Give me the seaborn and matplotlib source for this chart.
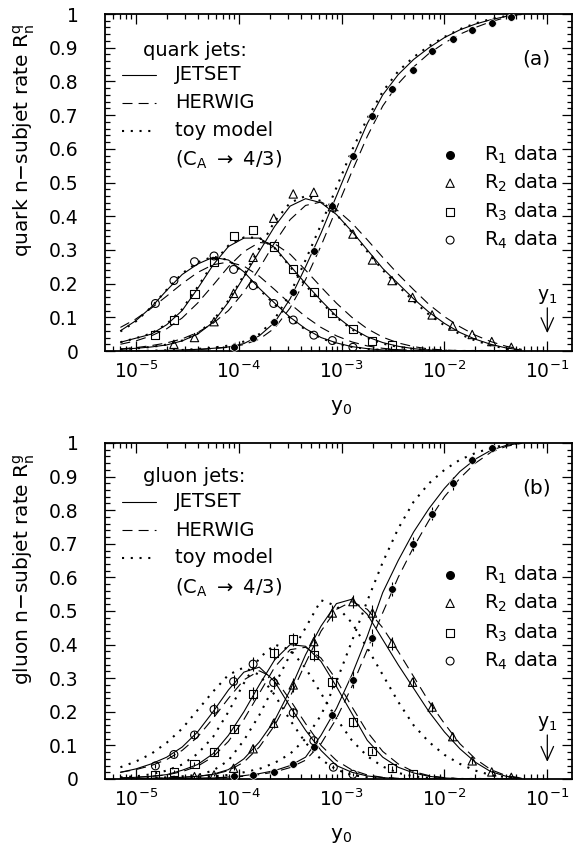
import numpy as np
import matplotlib
matplotlib.use("Agg")
import matplotlib.pyplot as plt
from matplotlib.lines import Line2D
from matplotlib.ticker import LogLocator, MultipleLocator, FixedLocator, FuncFormatter, NullFormatter
import seaborn as sns

# ---------------------------------------------------------------------------
# model curves: log10(y0) grid and n-subjet rates
# ---------------------------------------------------------------------------
log_y0 = [-5.15, -5.00, -4.85, -4.70, -4.55, -4.40, -4.25, -4.10, -3.95, -3.80,
          -3.65, -3.50, -3.35, -3.20, -3.05, -2.90, -2.75, -2.60, -2.45, -2.30,
          -2.15, -2.00, -1.85, -1.70, -1.55, -1.40, -1.25]

# quark jets
q1_jetset = [0.000, 0.000, 0.001, 0.002, 0.003, 0.005, 0.008, 0.012, 0.022, 0.045, 0.085, 0.155, 0.250, 0.350, 0.460, 0.570, 0.675, 0.760, 0.820, 0.865, 0.900, 0.930, 0.953, 0.970, 0.983, 0.993, 0.999]
q1_herwig = [0.000, 0.000, 0.001, 0.001, 0.002, 0.004, 0.007, 0.011, 0.019, 0.035, 0.068, 0.128, 0.212, 0.312, 0.422, 0.532, 0.637, 0.727, 0.793, 0.843, 0.883, 0.914, 0.940, 0.960, 0.977, 0.990, 0.998]
q1_toy    = [0.000, 0.000, 0.001, 0.002, 0.003, 0.006, 0.010, 0.016, 0.028, 0.050, 0.095, 0.170, 0.270, 0.375, 0.485, 0.595, 0.690, 0.770, 0.830, 0.872, 0.905, 0.932, 0.955, 0.972, 0.985, 0.994, 1.000]

q2_jetset = [0.005, 0.008, 0.012, 0.018, 0.030, 0.050, 0.085, 0.145, 0.220, 0.295, 0.370, 0.430, 0.452, 0.440, 0.405, 0.355, 0.300, 0.245, 0.200, 0.155, 0.115, 0.082, 0.055, 0.035, 0.020, 0.009, 0.003]
q2_herwig = [0.006, 0.010, 0.016, 0.024, 0.036, 0.055, 0.082, 0.120, 0.175, 0.245, 0.322, 0.390, 0.432, 0.442, 0.420, 0.380, 0.330, 0.278, 0.228, 0.182, 0.138, 0.102, 0.072, 0.047, 0.028, 0.014, 0.005]
q2_toy    = [0.005, 0.008, 0.012, 0.019, 0.031, 0.052, 0.090, 0.150, 0.225, 0.305, 0.385, 0.440, 0.460, 0.445, 0.405, 0.352, 0.295, 0.240, 0.193, 0.148, 0.108, 0.076, 0.050, 0.031, 0.017, 0.007, 0.002]

q3_jetset = [0.026, 0.038, 0.050, 0.078, 0.120, 0.185, 0.255, 0.310, 0.335, 0.335, 0.307, 0.253, 0.200, 0.150, 0.103, 0.067, 0.042, 0.025, 0.014, 0.007, 0.003, 0.001, 0.000, 0.000, 0.000, 0.000, 0.000]
q3_herwig = [0.020, 0.030, 0.045, 0.066, 0.098, 0.142, 0.195, 0.250, 0.295, 0.322, 0.318, 0.287, 0.240, 0.190, 0.142, 0.100, 0.066, 0.041, 0.024, 0.013, 0.006, 0.003, 0.001, 0.000, 0.000, 0.000, 0.000]
q3_toy    = [0.026, 0.038, 0.052, 0.080, 0.124, 0.190, 0.260, 0.313, 0.337, 0.336, 0.305, 0.250, 0.195, 0.145, 0.100, 0.064, 0.039, 0.022, 0.012, 0.006, 0.002, 0.001, 0.000, 0.000, 0.000, 0.000, 0.000]

q4_jetset = [0.060, 0.090, 0.130, 0.180, 0.227, 0.258, 0.278, 0.270, 0.235, 0.186, 0.142, 0.100, 0.066, 0.040, 0.024, 0.013, 0.007, 0.003, 0.001, 0.000, 0.000, 0.000, 0.000, 0.000, 0.000, 0.000, 0.000]
q4_herwig = [0.070, 0.095, 0.127, 0.163, 0.200, 0.233, 0.256, 0.264, 0.252, 0.222, 0.182, 0.140, 0.102, 0.070, 0.045, 0.027, 0.015, 0.008, 0.004, 0.002, 0.001, 0.000, 0.000, 0.000, 0.000, 0.000, 0.000]
q4_toy    = [0.058, 0.088, 0.130, 0.182, 0.230, 0.263, 0.280, 0.270, 0.232, 0.183, 0.138, 0.097, 0.063, 0.038, 0.022, 0.012, 0.006, 0.003, 0.001, 0.000, 0.000, 0.000, 0.000, 0.000, 0.000, 0.000, 0.000]

# gluon jets
g1_jetset = [0.000, 0.000, 0.000, 0.000, 0.001, 0.002, 0.003, 0.006, 0.010, 0.016, 0.025, 0.040, 0.065, 0.130, 0.210, 0.310, 0.425, 0.555, 0.650, 0.735, 0.805, 0.865, 0.915, 0.952, 0.978, 0.993, 1.000]
g1_herwig = [0.000, 0.000, 0.000, 0.000, 0.001, 0.002, 0.003, 0.005, 0.008, 0.013, 0.021, 0.034, 0.056, 0.105, 0.180, 0.275, 0.385, 0.495, 0.600, 0.690, 0.770, 0.840, 0.895, 0.940, 0.972, 0.990, 0.999]
g1_toy    = [0.000, 0.001, 0.001, 0.002, 0.003, 0.005, 0.008, 0.012, 0.020, 0.030, 0.048, 0.075, 0.120, 0.190, 0.290, 0.410, 0.530, 0.645, 0.745, 0.825, 0.880, 0.920, 0.950, 0.970, 0.985, 0.995, 1.000]

g2_jetset = [0.000, 0.001, 0.002, 0.003, 0.005, 0.008, 0.014, 0.028, 0.060, 0.110, 0.175, 0.265, 0.370, 0.455, 0.522, 0.535, 0.490, 0.415, 0.340, 0.270, 0.200, 0.140, 0.090, 0.050, 0.022, 0.008, 0.002]
g2_herwig = [0.000, 0.001, 0.002, 0.003, 0.005, 0.008, 0.013, 0.025, 0.050, 0.095, 0.160, 0.245, 0.345, 0.440, 0.505, 0.528, 0.505, 0.450, 0.380, 0.305, 0.230, 0.165, 0.105, 0.060, 0.028, 0.010, 0.003]
g2_toy    = [0.001, 0.002, 0.003, 0.005, 0.008, 0.012, 0.025, 0.055, 0.115, 0.190, 0.280, 0.370, 0.450, 0.532, 0.515, 0.465, 0.390, 0.310, 0.230, 0.160, 0.110, 0.072, 0.045, 0.025, 0.012, 0.005, 0.001]

g3_jetset = [0.003, 0.005, 0.008, 0.013, 0.026, 0.043, 0.075, 0.130, 0.200, 0.280, 0.355, 0.400, 0.395, 0.350, 0.275, 0.195, 0.115, 0.065, 0.035, 0.018, 0.008, 0.003, 0.001, 0.000, 0.000, 0.000, 0.000]
g3_herwig = [0.003, 0.005, 0.008, 0.012, 0.022, 0.038, 0.066, 0.112, 0.177, 0.255, 0.333, 0.385, 0.392, 0.360, 0.295, 0.215, 0.140, 0.082, 0.045, 0.022, 0.010, 0.004, 0.001, 0.000, 0.000, 0.000, 0.000]
g3_toy    = [0.005, 0.008, 0.014, 0.025, 0.043, 0.075, 0.125, 0.200, 0.285, 0.360, 0.400, 0.385, 0.330, 0.255, 0.180, 0.115, 0.068, 0.037, 0.018, 0.008, 0.003, 0.001, 0.000, 0.000, 0.000, 0.000, 0.000]

g4_jetset = [0.020, 0.030, 0.045, 0.065, 0.095, 0.140, 0.200, 0.265, 0.318, 0.333, 0.290, 0.215, 0.145, 0.085, 0.040, 0.020, 0.009, 0.004, 0.001, 0.000, 0.000, 0.000, 0.000, 0.000, 0.000, 0.000, 0.000]
g4_herwig = [0.020, 0.028, 0.040, 0.058, 0.085, 0.125, 0.180, 0.240, 0.295, 0.322, 0.300, 0.235, 0.165, 0.100, 0.055, 0.027, 0.012, 0.005, 0.002, 0.000, 0.000, 0.000, 0.000, 0.000, 0.000, 0.000, 0.000]
g4_toy    = [0.035, 0.052, 0.075, 0.108, 0.150, 0.205, 0.260, 0.310, 0.332, 0.310, 0.250, 0.175, 0.108, 0.058, 0.028, 0.012, 0.005, 0.002, 0.000, 0.000, 0.000, 0.000, 0.000, 0.000, 0.000, 0.000, 0.000]

# ---------------------------------------------------------------------------
# measured rates (log10 y0, R_n, error)
# ---------------------------------------------------------------------------
qd1_x = [-4.05, -3.86, -3.66, -3.47, -3.27, -3.09, -2.89, -2.70, -2.51, -2.31, -2.12, -1.92, -1.73, -1.54, -1.35]
qd1_y = [0.013, 0.038, 0.087, 0.174, 0.297, 0.430, 0.579, 0.697, 0.776, 0.834, 0.890, 0.925, 0.953, 0.974, 0.992]
qd2_x = [-4.63, -4.43, -4.24, -4.05, -3.86, -3.66, -3.47, -3.27, -3.09, -2.89, -2.70, -2.51, -2.31, -2.12, -1.92, -1.73, -1.54, -1.35]
qd2_y = [0.020, 0.040, 0.087, 0.171, 0.278, 0.394, 0.466, 0.471, 0.428, 0.347, 0.270, 0.209, 0.159, 0.107, 0.074, 0.049, 0.028, 0.011]
qd3_x = [-4.81, -4.63, -4.43, -4.24, -4.05, -3.86, -3.66, -3.47, -3.27, -3.09, -2.89, -2.70, -2.51]
qd3_y = [0.047, 0.092, 0.169, 0.265, 0.342, 0.359, 0.310, 0.243, 0.176, 0.112, 0.064, 0.031, 0.018]
qd4_x = [-4.81, -4.63, -4.43, -4.24, -4.05, -3.86, -3.66, -3.47, -3.27, -3.09, -2.89]
qd4_y = [0.141, 0.209, 0.265, 0.282, 0.242, 0.194, 0.141, 0.092, 0.047, 0.031, 0.011]

gd1_x = [-4.05, -3.86, -3.66, -3.47, -3.27, -3.09, -2.89, -2.70, -2.51, -2.31, -2.12, -1.92, -1.73, -1.54]
gd1_y = [0.008, 0.013, 0.022, 0.045, 0.095, 0.190, 0.295, 0.420, 0.565, 0.700, 0.790, 0.880, 0.950, 0.984]
gd1_e = [0.003, 0.004, 0.005, 0.007, 0.010, 0.015, 0.025, 0.025, 0.020, 0.020, 0.020, 0.020, 0.012, 0.008]
gd2_x = [-4.43, -4.24, -4.05, -3.86, -3.66, -3.47, -3.27, -3.09, -2.89, -2.70, -2.51, -2.31, -2.12, -1.92, -1.73, -1.54, -1.35]
gd2_y = [0.007, 0.012, 0.032, 0.090, 0.166, 0.280, 0.409, 0.494, 0.528, 0.494, 0.404, 0.288, 0.214, 0.126, 0.054, 0.021, 0.005]
gd2_e = [0.003, 0.004, 0.006, 0.010, 0.015, 0.020, 0.025, 0.025, 0.020, 0.025, 0.020, 0.015, 0.015, 0.012, 0.008, 0.005, 0.003]
gd3_x = [-4.81, -4.63, -4.43, -4.24, -4.05, -3.86, -3.66, -3.47, -3.27, -3.09, -2.89, -2.70, -2.51, -2.31]
gd3_y = [0.012, 0.022, 0.044, 0.080, 0.150, 0.254, 0.374, 0.416, 0.370, 0.288, 0.169, 0.083, 0.032, 0.014]
gd3_e = [0.003, 0.004, 0.006, 0.008, 0.012, 0.020, 0.020, 0.020, 0.020, 0.020, 0.015, 0.010, 0.006, 0.004]
gd4_x = [-4.81, -4.63, -4.43, -4.24, -4.05, -3.86, -3.66, -3.47, -3.27, -3.08, -2.89]
gd4_y = [0.039, 0.073, 0.131, 0.207, 0.290, 0.342, 0.287, 0.197, 0.114, 0.035, 0.014]
gd4_e = [0.005, 0.008, 0.012, 0.020, 0.020, 0.020, 0.020, 0.015, 0.012, 0.006, 0.004]

y_ticks = [0, 0.1, 0.2, 0.3, 0.4, 0.5, 0.6, 0.7, 0.8, 0.9, 1]
y_tick_labels = ["0", "0.1", "0.2", "0.3", "0.4", "0.5", "0.6", "0.7", "0.8", "0.9", "1"]
model_names = ["JETSET", "HERWIG", "toy model"]
data_names = ["R$_1$ data", "R$_2$ data", "R$_3$ data", "R$_4$ data"]

# ---------------------------------------------------------------------------
sns.set_style("ticks")
plt.rcParams["font.family"] = ["DejaVu Sans"]
plt.rcParams.update({
    "mathtext.fontset": "dejavusans",
    "mathtext.default": "regular",
    "text.color": "black",
    "axes.labelcolor": "black",
    "xtick.color": "black",
    "ytick.color": "black",
    "axes.edgecolor": "black",
})

FS = 13.5
W, H = 574, 844
fig = plt.figure(figsize=(W / 100, H / 100), dpi=100)

ax_q = fig.add_axes([105 / W, 1 - 351 / H, 467 / W, 337 / H])
ax_g = fig.add_axes([105 / W, 1 - 779 / H, 467 / W, 336 / H])

line_styles = {
    "jetset": dict(ls="-", lw=0.8),
    "herwig": dict(ls=(0, (9, 5.5)), lw=0.8),
    "toy": dict(ls=(0, (1, 3.2)), lw=1.5),
}

marker_styles = [
    dict(marker="o", s=30, color="k"),
    dict(marker="^", s=36, facecolor="none", edgecolor="k", linewidth=0.8),
    dict(marker="s", s=34, facecolor="none", edgecolor="k", linewidth=0.8),
    dict(marker="o", s=32, facecolor="none", edgecolor="k", linewidth=0.8),
]

y0 = 10 ** np.array(log_y0)


def draw_curves(ax, curves):
    for jet, her, toy in curves:
        for vals, key in ((jet, "jetset"), (her, "herwig"), (toy, "toy")):
            sns.lineplot(x=y0, y=vals, ax=ax, color="k", estimator=None,
                         sort=False, legend=False, **line_styles[key])


def draw_data(ax, series, with_err):
    for i, s in enumerate(series):
        x = 10 ** np.array(s[0])
        y = np.array(s[1])
        if with_err:
            ax.errorbar(x, y, yerr=s[2], fmt="none", ecolor="k", elinewidth=0.8,
                        capsize=0, zorder=3)
        sns.scatterplot(x=x, y=y, ax=ax, legend=False, zorder=4, **marker_styles[i])


def style_axis(ax, ylab, tag, y_label_center):
    ax.set_xscale("log")
    ax.set_xlim(10 ** -5.30, 10 ** -0.76)
    ax.set_ylim(0, 1)
    ax.xaxis.set_major_locator(FixedLocator([1e-5, 1e-4, 1e-3, 1e-2, 1e-1]))
    ax.xaxis.set_minor_locator(LogLocator(base=10, subs=np.arange(2, 10), numticks=20))
    ax.xaxis.set_major_formatter(FuncFormatter(lambda v, p: r"$10^{%d}$" % round(np.log10(v))))
    ax.xaxis.set_minor_formatter(NullFormatter())
    ax.set_yticks(y_ticks)
    ax.set_yticklabels(y_tick_labels)
    ax.yaxis.set_minor_locator(MultipleLocator(0.02))
    ax.tick_params(which="both", direction="in", top=True, right=True, width=0.9,
                   labelsize=FS, colors="k")
    ax.tick_params(axis="y", which="major", length=7, pad=19)
    ax.tick_params(axis="x", which="major", length=7, pad=7)
    ax.tick_params(which="minor", length=3.5)
    for sp in ax.spines.values():
        sp.set_linewidth(1.3)
        sp.set_color("k")
    ax.set_xlabel("")
    ax.set_ylabel("")
    ax.text(0.505, -0.168, r"y$_{\rm 0}$", transform=ax.transAxes, ha="center",
            va="center", fontsize=FS + 1)
    fig.text(24 / W, 1 - y_label_center / H, ylab, rotation=90, ha="center",
             va="center", fontsize=FS + 1)
    ax.text(0.924, 0.865, tag, transform=ax.transAxes, ha="center", va="center",
            fontsize=FS + 1)


def draw_legends(ax, title, rows_model, rows_data, y1_text, y1_top, y1_tip):
    ax.text(0.081, rows_model[0], title, transform=ax.transAxes, ha="left",
            va="center", fontsize=FS + 0.5)
    for name, key, yy in zip(model_names, ["jetset", "herwig", "toy"], rows_model[1:4]):
        ax.add_line(Line2D([0.036, 0.109], [yy, yy], transform=ax.transAxes,
                           color="k", **line_styles[key]))
        ax.text(0.150, yy, name, transform=ax.transAxes, ha="left", va="center",
                fontsize=FS + 0.5)
    ax.text(0.150, rows_model[4], r"(C$_{\rm A}$ $\rightarrow$ 4/3)",
            transform=ax.transAxes, ha="left", va="center", fontsize=FS + 0.5)
    for i, (name, yy) in enumerate(zip(data_names, rows_data)):
        st = dict(marker_styles[i])
        sz = st.pop("s")
        ax.scatter([0.739], [yy], s=sz, transform=ax.transAxes, clip_on=False, **st)
        ax.text(0.812, yy, name, transform=ax.transAxes, ha="left", va="center",
                fontsize=FS + 0.5)
    ax.text(0.1, y1_text, r"y$_{\rm 1}$", ha="center", va="bottom", fontsize=FS)
    ax.annotate("", xy=(0.1, y1_tip), xytext=(0.1, y1_top),
                arrowprops=dict(arrowstyle="->,head_length=1.0,head_width=0.45",
                                lw=0.9, color="k", shrinkA=0, shrinkB=0))


# quark panel
draw_curves(ax_q, [(q1_jetset, q1_herwig, q1_toy), (q2_jetset, q2_herwig, q2_toy),
                   (q3_jetset, q3_herwig, q3_toy), (q4_jetset, q4_herwig, q4_toy)])
draw_data(ax_q, [(qd1_x, qd1_y), (qd2_x, qd2_y), (qd3_x, qd3_y), (qd4_x, qd4_y)], False)
style_axis(ax_q, "quark n\u2212subjet rate R$_{\\rm n}^{\\rm q}$", "(a)", 140)
draw_legends(ax_q, "quark jets:", [0.893, 0.819, 0.736, 0.653, 0.567],
             [0.582, 0.498, 0.413, 0.329], 0.135, 0.128, 0.053)

# gluon panel
draw_curves(ax_g, [(g1_jetset, g1_herwig, g1_toy), (g2_jetset, g2_herwig, g2_toy),
                   (g3_jetset, g3_herwig, g3_toy), (g4_jetset, g4_herwig, g4_toy)])
draw_data(ax_g, [(gd1_x, gd1_y, gd1_e), (gd2_x, gd2_y, gd2_e), (gd3_x, gd3_y, gd3_e),
                 (gd4_x, gd4_y, gd4_e)], True)
style_axis(ax_g, "gluon n\u2212subjet rate R$_{\\rm n}^{\\rm g}$", "(b)", 569)
draw_legends(ax_g, "gluon jets:", [0.900, 0.825, 0.741, 0.658, 0.568],
             [0.607, 0.523, 0.435, 0.351], 0.137, 0.131, 0.051)

fig.savefig("out.png", dpi=100)
